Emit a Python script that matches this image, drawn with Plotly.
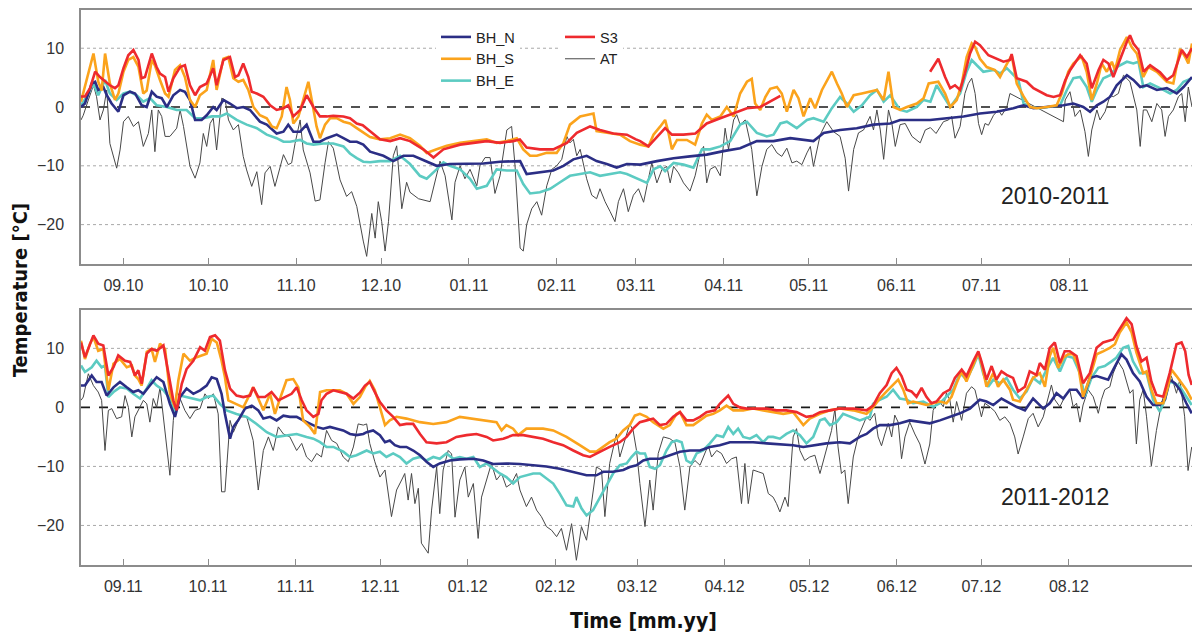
import pandas as pd
import plotly.graph_objects as go

# ---------------- DATA (day offsets from period start, temperature in deg C) ----------------
TOP_START = "2010-08-17"
BOT_START = "2011-08-17"

TOP_TICK_DATES = ["2010-09-01", "2010-10-01", "2010-11-01", "2010-12-01", "2011-01-01", "2011-02-01",
                  "2011-03-01", "2011-04-01", "2011-05-01", "2011-06-01", "2011-07-01", "2011-08-01"]
TOP_TICK_TEXT = ["09.10", "10.10", "11.10", "12.10", "01.11", "02.11", "03.11", "04.11", "05.11", "06.11", "07.11", "08.11"]
BOT_TICK_DATES = ["2011-09-01", "2011-10-01", "2011-11-01", "2011-12-01", "2012-01-01", "2012-02-01",
                  "2012-03-01", "2012-04-01", "2012-05-01", "2012-06-01", "2012-07-01", "2012-08-01"]
BOT_TICK_TEXT = ["09.11", "10.11", "11.11", "12.11", "01.12", "02.12", "03.12", "04.12", "05.12", "06.12", "07.12", "08.12"]

Y_TICKS = [-20, -10, 0, 10]
GRID_VALUES = [-20, -10, 10]

# ---- 2010-2011 ----
top_S3_day = [
    0, 1.4, 3.2, 5, 6.7, 8.5, 10.2, 12, 13.2, 15,
    16.7, 18.5, 20.3, 21.4, 22.6, 25, 26.7, 27.9, 29.7, 30.9,
    32.6, 35, 36.7, 38.5, 40.3, 42, 44.4, 46.7, 47.9, 50.3,
    52.6, 54.4, 55.6, 57.3, 59.1, 60.3, 62.1, 64.4, 66.8, 69.1,
    71.5, 73.2, 75, 77.4, 79.7, 82.1, 84.4, 86.8, 89.1, 92.7,
    95, 97.4, 99.5, 102, 105.6, 109.2, 112.7, 116.2, 120.9, 124.5,
    128, 133.9, 138.6, 143.3, 148, 152.7, 155, 157.4, 162.1, 166.8,
    171.6, 175.1, 179.8, 183.3, 188, 192.8, 196, 197.5, 200.4, 206.3,
    208.7, 212.8, 217, 221, 225.8, 230.5, 235.2, 239.9, 243.4, 247,
    270,
    299.9, 302.8, 305.2, 307, 308.7, 310.5, 312.2, 314, 315.8, 317.5,
    320.5, 323.4, 325.8, 328.1, 328.7, 330.5, 334, 336.4, 338.7, 341.1,
    343.5, 345.8, 347.6, 349.4, 352.9, 355.2, 357, 359.4, 361.1, 362.9,
    364.6, 367, 369.4, 370.5, 371.7, 373.5, 375.3, 377.6, 381.1, 383.5,
    385.8, 388.8, 390.6, 392.4]
top_S3_val = [
    1.8, 1.8, 3.2, 6.0, 5.1, 4.3, 3.7, 3.2, 3.7, 6.6,
    8.8, 9.7, 8.0, 4.9, 5.1, 9.1, 6.8, 5.7, 5.1, 2.6,
    4.9, 6.8, 7.1, 3.7, 2.0, 3.4, 4.0, 6.6, 3.7, 8.0,
    8.5, 5.1, 5.4, 7.4, 5.1, 2.6, 2.3, 1.75, 0.3, -0.5,
    -0.2, 0.3, -1.6, -0.5, 2.0, 0.0, -1.6, -1.6, -1.5, -1.6,
    -1.9, -2.8, -3.1, -4.1, -5.5, -5.8, -5.3, -5.8, -7.2, -8.6,
    -7.2, -6.4, -6.1, -5.8, -6.1, -5.8, -5.5, -6.9, -7.2, -7.2,
    -6.1, -4.4, -3.3, -3.9, -4.5, -4.7, -5.5, -5.8, -6.7, -3.6,
    -4.7, -4.7, -4.5, -2.8, -1.9, -1.0, -0.2, 0.0, 0.9, 1.9,
    None,
    6.0, 8.2, 5.1, 3.2, 3.7, 2.9, 5.7, 9.1, 11.1, 10.5,
    8.8, 8.2, 7.7, 8.0, 9.0, 4.9, 4.3, 3.2, 2.6, 2.0,
    1.7, 2.0, 4.5, 6.3, 8.8, 7.4, 3.2, 6.3, 8.0, 7.4,
    5.1, 8.2, 11.1, 12.2, 10.8, 9.7, 6.0, 7.1, 5.9, 4.6,
    5.4, 9.7, 8.5, 10.0]

top_BHS_day = [
    0, 2, 4.4, 6.1, 7.3, 8.5, 10.2, 12, 13.2, 15,
    16.7, 18.5, 20.3, 22, 23.2, 25, 26.1, 27.9, 29.7, 30.9,
    33.2, 35, 36.7, 38.5, 40.3, 42, 44.4, 46.7, 47.9, 50.3,
    52, 53.8, 55.6, 57.3, 59.1, 60.9, 63.2, 65.6, 67.4, 69.1,
    70.9, 72.6, 73.8, 75, 76.8, 78.5, 80.3, 81.5, 83.2, 84.4,
    86.2, 88, 90.3, 92.7, 95, 97.4, 99.7, 102.1, 105.6, 109.2,
    112.7, 116.2, 119.7, 122.1, 125.6, 129.2, 133.9, 138.6, 143.3, 146.8,
    150.4, 153.9, 156.2, 158.6, 161, 164.5, 168, 170.4, 172.7, 176.3,
    179.8, 181, 182.1, 185.7, 190.4, 193.9, 197.5, 200.4, 202.2, 204.6,
    206.3, 207.5, 208.7, 210.5, 214, 216.9, 219.3, 221, 222.8, 225.8,
    228.1, 230.5, 232.8, 235.2, 236.9, 238.1, 239.9, 241.7, 243.4, 245.8,
    247.5, 249.3, 251.7, 253.4, 255.2, 257.6, 259.3, 261.7, 265.2, 267,
    268.7, 270.5, 272.9, 275.8, 278.7, 281.1, 283.5, 285.2, 287, 289.3,
    291.7, 295.2, 297.6, 299.4, 302.8, 305.2, 307, 309.3, 311.1, 312.8,
    314.6, 315.8, 317.5, 319.9, 322.8, 324.6, 326.4, 328.7, 330.5, 332.9,
    335.2, 337.6, 341.1, 344.6, 346.4, 348.7, 350.5, 352.3, 353.5, 355.2,
    357, 358.8, 360.5, 362.3, 364.1, 365.2, 367, 369.4, 371.1, 372.9,
    375.2, 377, 380, 383.5, 385.8, 388.2, 390, 391.1, 392.4]
top_BHS_val = [
    0.9, 4.6, 9.1, 4.3, 2.8, 9.1, 4.0, 1.2, 2.3, 6.0,
    8.0, 8.5, 6.8, 2.3, 2.8, 8.0, 7.1, 4.6, 2.3, 1.75,
    6.3, 7.1, 5.1, 1.2, 0.0, 2.0, 2.9, 8.0, 2.9, 8.2,
    8.5, 4.9, 4.3, 4.6, 2.9, 0.0, -1.4, -1.9, -3.3, -3.6,
    -1.6, 3.4, 1.2, -2.8, -1.6, 1.2, 4.3, 1.2, -3.3, -5.3,
    -3.0, -1.9, -1.9, -2.5, -2.8, -3.6, -4.3, -5.1, -5.5, -5.3,
    -4.7, -5.3, -6.6, -7.8, -7.2, -6.6, -6.1, -5.8, -5.5, -6.1,
    -5.8, -5.3, -7.2, -8.3, -8.3, -7.8, -7.8, -6.1, -3.0, -1.6,
    -1.3, -1.1, -4.1, -4.4, -4.7, -5.8, -6.4, -6.7, -4.7, -3.3,
    -2.2, -4.4, -7.2, -5.6, -5.6, -6.4, -2.8, -1.3, -2.2, -1.6,
    0.0, -1.6, 2.3, 4.3, 4.8, 0.6, -0.5, 1.7, 3.1, 3.4,
    2.3, -0.8, 2.9, 1.5, -1.6, 1.5, -0.2, 2.9, 6.0, 4.0,
    2.3, 0.0, 2.0, 2.3, 2.6, 2.9, 1.2, 6.0, 0.0, -0.5,
    0.0, 0.6, 1.5, 4.0, 4.3, 2.3, 0.0, 1.2, 4.0, 8.5,
    10.8, 10.2, 8.2, 6.8, 6.3, 5.1, 6.8, 8.8, 4.0, 1.8,
    0.0, -0.2, 0.0, 0.3, 2.3, 6.0, 7.4, 8.2, 8.5, 6.0,
    1.2, 4.0, 7.4, 6.0, 7.7, 6.3, 9.7, 11.9, 10.2, 9.1,
    5.1, 6.8, 6.0, 4.3, 4.0, 9.9, 8.5, 7.4, 10.8]

top_BHN_day = [
    0, 1.4, 3.8, 5, 6.1, 7.9, 9.1, 10.8, 13.2, 15,
    17.3, 19.1, 21.4, 23.2, 25, 26.7, 28.5, 30.3, 32.6, 35,
    36.7, 38.5, 40.3, 42.6, 44.4, 46.7, 47.9, 50.3, 52.6, 55,
    57.3, 59.7, 63.2, 65.6, 69.1, 71.5, 73.2, 75, 77.4, 79.7,
    82.1, 84.4, 86.8, 90.3, 92.7, 95, 97.4, 99.7, 102.1, 106.8,
    110.3, 113.9, 117.4, 122.1, 125.6, 130.3, 136.2, 142.1, 148, 155.1,
    157.4, 162.1, 166.8, 170.4, 173.9, 178.6, 182.1, 185.7, 189.2, 192.8,
    197.5, 203.4, 209.3, 215.1, 221, 226.9, 232.8, 238.7, 244.6, 250.5,
    256.4, 258.7, 262.3, 268.1, 274, 279.9, 285.8, 289.3, 295.2, 299.9,
    305.8, 311.7, 317.5, 323.4, 329.3, 332.9, 336.4, 341.1, 347, 350.5,
    354, 356.4, 358.8, 361.1, 363.5, 365.8, 369.4, 371.7, 374.1, 376.4,
    380, 383.5, 387, 389.4, 392.4]
top_BHN_val = [
    0.0, 0.6, 4.0, 4.3, 2.9, 3.4, 2.0, 0.6, -0.8, 2.0,
    2.6, 2.3, 0.3, 0.0, 2.6, 1.75, 1.5, 0.0, 2.0, 2.9,
    2.6, 1.2, -2.2, -2.2, -1.4, 0.0, -0.5, 1.2, 0.6, -0.2,
    0.0, -0.5, -2.5, -3.0, -4.5, -4.2, -3.0, -4.2, -4.2, -3.0,
    -5.9, -5.9, -5.3, -4.7, -5.3, -5.9, -5.9, -6.4, -7.6, -8.3,
    -9.2, -8.3, -8.3, -9.2, -10.0, -9.7, -9.7, -9.6, -9.3, -9.2,
    -11.4, -11.1, -10.8, -10.0, -8.9, -8.3, -9.2, -9.7, -10.3, -9.7,
    -9.8, -9.2, -8.7, -8.4, -8.1, -7.5, -7.0, -5.8, -5.8, -5.3,
    -5.6, -5.8, -4.4, -3.9, -3.6, -3.0, -2.8, -2.2, -2.2, -2.2,
    -1.9, -1.6, -1.1, -0.8, -0.2, 0.3, -0.2, 0.0, 0.3, 0.6,
    0.0, -0.8, 0.3, 0.9, 1.75, 3.7, 5.4, 4.6, 3.4, 3.7,
    2.9, 3.2, 2.3, 3.4, 5.1]

top_BHE_day = [
    0, 2, 4.4, 6.1, 8.5, 10.2, 12.6, 15, 17.3, 19.7,
    22, 24.4, 26.7, 30.3, 33.8, 37.3, 40.3, 43.2, 46.2, 49.1,
    51.5, 55, 58.5, 62.1, 65.6, 69.1, 71.5, 73.8, 77.4, 79.7,
    82.1, 85.6, 89.1, 92.7, 95, 97.4, 99.7, 102.1, 105.6, 109.2,
    112.7, 116.2, 119.7, 122.1, 125.6, 128, 130.3, 133.9, 137.4, 139.8,
    143.3, 146.8, 150.4, 153.9, 156.2, 158.6, 162.1, 165.7, 169.2, 172.7,
    176.3, 179.8, 183.3, 186.9, 190.4, 192.8, 196.3, 199.9, 202.2, 204.6,
    206.3, 209.3, 212.8, 216.3, 219.3, 222.2, 225.8, 229.3, 232.8, 235.2,
    238.7, 242.2, 244.6, 247, 249.3, 252.8, 256.4, 258.7, 262.3, 265.2,
    268.1, 270.5, 272.9, 275.8, 278.7, 281.1, 283.5, 285.8, 289.3, 291.7,
    295.2, 297.6, 300, 302.2, 307, 310.5, 312.8, 314.6, 316.4, 318.7,
    322.3, 324.6, 327, 329.3, 331.1, 332.9, 335.2, 338.7, 342.3, 345.8,
    348.2, 350.5, 352.9, 355.2, 357, 358.8, 361.1, 363.5, 365.8, 369.4,
    371.7, 373.5, 375.2, 377.6, 381.1, 384.7, 387, 389.4, 392.4]
top_BHE_val = [
    0.3, 1.75, 4.0, 2.0, 4.6, 2.3, 1.2, 2.3, 2.6, 2.0,
    0.9, 1.5, 0.3, 0.0, -0.5, -0.5, -1.9, -1.9, -1.6, -1.6,
    -1.1, -2.2, -3.0, -3.6, -4.7, -5.3, -5.9, -5.9, -5.6, -6.2,
    -6.4, -6.2, -6.2, -6.7, -7.9, -8.7, -9.3, -9.4, -9.2, -9.2,
    -8.3, -9.7, -11.7, -12.2, -10.6, -9.4, -10.0, -10.6, -12.2, -13.9,
    -13.4, -10.6, -10.8, -10.8, -13.1, -14.7, -14.5, -13.9, -12.8, -11.7,
    -11.4, -11.1, -11.7, -11.4, -11.1, -11.4, -12.2, -12.9, -10.6, -10.1,
    -10.9, -9.5, -9.8, -10.3, -7.2, -7.2, -6.7, -5.8, -3.0, -2.5,
    -4.4, -5.0, -4.7, -2.8, -2.5, -3.6, -2.2, -1.9, -2.5, -0.2,
    1.7, 0.6, -0.8, 0.3, 2.0, 2.9, 0.9, 2.0, -0.5, -0.8,
    0.0, 1.2, 0.9, 3.7, 0.0, 2.3, 6.0, 8.0, 7.1, 6.0,
    6.3, 5.7, 6.6, 5.4, 4.6, 0.6, 0.0, -0.2, 0.0, 0.3,
    2.9, 4.9, 5.1, 3.4, 0.9, 2.9, 4.9, 5.4, 6.8, 7.7,
    7.4, 7.7, 3.4, 4.0, 3.2, 2.3, 2.9, 4.3, 4.9]

top_AT_day = [
    0, 0.8, 2.6, 4.4, 5.5, 6.7, 7.9, 9.1, 10.2, 12.6,
    13.8, 15, 16.7, 18.5, 20.3, 22, 23.8, 25, 26.1, 27.3,
    28.5, 29.7, 31.4, 33.8, 35, 36.2, 38.5, 40.3, 42, 43.2,
    44.4, 45.6, 46.7, 47.9, 49.7, 50.9, 52.1, 53.8, 55.6, 57.3,
    58.5, 60.3, 62.1, 63.8, 65, 66.8, 68.5, 70.3, 71.5, 73.2,
    74.4, 75.6, 77.4, 78.5, 80.9, 82.7, 84.4, 86.2, 87.4, 89.1,
    91.5, 93.8, 95.6, 97.4, 98.6, 99.7, 100.9, 102.7, 103.9, 105,
    106.2, 107.4, 108.6, 110.3, 111.5, 113.3, 115, 116.2, 119.2, 123.3,
    126.8, 128.6, 131, 132.1, 133.9, 135.6, 137.4, 139.8, 140.9, 142.7,
    144.5, 146.2, 148, 150.4, 152.1, 153.3, 155.1, 156.2, 157.4, 159.2,
    161, 162.7, 164.5, 166.3, 168, 169.8, 171.6, 172.7, 173.9, 175.1,
    176.3, 178.6, 180.4, 182.1, 183.3, 185.1, 186.9, 188.6, 189.8, 191.6,
    193.3, 195.1, 196.9, 198.7, 199.9, 201.6, 203.4, 205.2, 206.9, 208.1,
    209.3, 211, 212.8, 215.1, 216.9, 218.7, 219.9, 221, 222.2, 224,
    225.8, 227.5, 228.7, 230.5, 231.6, 232.8, 234.6, 236.9, 238.7, 240.5,
    242.2, 244, 245.8, 247.5, 249.3, 251.1, 252.8, 254.6, 256.4, 257.6,
    258.7, 261.1, 263.4, 265.8, 268.1, 269.9, 271.1, 272.9, 274.6, 276.4,
    278.7, 279.9, 281.1, 282.3, 283.5, 285.2, 286.4, 287.6, 289.3, 291.1,
    293.5, 296.4, 298.2, 300, 302, 304.6, 306.4, 307.5, 308.7, 310.5,
    312.2, 313.4, 314.6, 315.8, 317, 318.1, 319.3, 320.5, 322.3, 324,
    325.2, 327, 328.1, 347, 347.6, 349.3, 351.1, 352.9, 354.6, 355.8,
    357, 358.8, 359.9, 361.7, 363.5, 364.6, 366.4, 368.2, 370.5, 371.7,
    372.9, 374.1, 375.2, 376.4, 378.2, 380, 381.7, 382.9, 384.1, 385.8,
    387.6, 388.8, 390, 391.1, 392.4]
top_AT_val = [
    -2.2, -1.4, 1.2, 3.7, 1.75, -2.2, -0.5, 2.9, -6.2, -10.4,
    -7.3, -2.5, -1.6, -3.3, -2.5, -6.7, -4.5, -0.5, -7.6, -0.5,
    -1.6, -5.0, -5.0, -3.6, -0.5, -3.3, -10.1, -12.1, -9.5, -4.5,
    -6.7, -2.8, -1.9, -7.3, 1.5, 1.2, -2.2, -3.9, -3.0, -8.4,
    -10.7, -13.5, -11.0, -16.6, -11.2, -10.1, -13.5, -10.1, -8.1, -9.8,
    -9.5, -6.2, -2.2, -7.3, -11.2, -16.0, -15.8, -9.5, -5.9, -7.0,
    -12.4, -15.2, -14.4, -16.9, -20.3, -22.8, -25.4, -18.1, -22.3, -16.1,
    -19.5, -24.5, -19.5, -8.3, -6.6, -17.3, -12.8, -14.5, -15.6, -16.1,
    -9.2, -11.7, -19.2, -12.8, -10.0, -12.2, -10.6, -13.4, -10.0, -8.6,
    -8.6, -14.7, -11.7, -3.9, -3.3, -10.0, -24.0, -24.5, -20.0, -17.3,
    -16.1, -18.4, -13.4, -10.6, -10.0, -8.9, -5.0, -6.1, -5.5, -8.3,
    -7.2, -12.2, -15.0, -15.6, -13.9, -16.1, -17.8, -19.5, -16.1, -13.9,
    -17.8, -15.0, -13.9, -16.2, -13.4, -9.5, -12.9, -10.6, -10.1, -12.9,
    -10.1, -11.2, -12.9, -14.3, -11.7, -7.8, -6.7, -12.9, -10.6, -10.1,
    -11.7, -3.6, -7.2, -2.2, -1.3, -3.0, -2.2, -7.2, -15.1, -10.1,
    -7.2, -6.4, -7.8, -8.4, -7.0, -9.5, -9.2, -9.8, -7.8, -6.7,
    -10.1, -4.7, -2.5, -4.2, -5.0, -8.7, -14.3, -7.2, -4.4, -3.9,
    -1.6, -3.9, -0.5, -3.9, -8.9, -0.5, -2.8, -6.7, -3.0, -2.8,
    -5.0, -6.1, -3.9, -3.5, -4.5, -2.5, -2.2, -1.6, -5.3, -3.3,
    2.3, 4.0, 4.9, 2.3, -2.8, -4.7, -2.8, -3.1, -1.4, -0.5,
    -1.4, 0.0, 2.3, -2.5, 1.2, 2.6, -1.6, -0.5, -4.2, -8.4,
    -3.9, -0.5, -2.2, -0.8, 2.0, 1.75, 2.3, 5.4, 4.3, 1.75,
    -0.5, -6.7, -0.5, -0.5, -2.5, 0.6, -0.5, -5.0, -1.6, -0.5,
    1.75, 2.3, -2.5, 3.4, 0.0]

# ---- 2011-2012 ----
bot_S3_day = [
    0, 1.4, 4.4, 6.1, 7.9, 9.7, 11.5, 13.2, 15.6, 17.4,
    19.1, 20.3, 21.5, 23.3, 25, 26.8, 29.2, 30.9, 32.7, 33.9,
    35.7, 37.4, 39.8, 42.2, 43.9, 45.7, 47.5, 49.2, 51, 52.8,
    55.1, 57.5, 59.9, 61, 62.8, 65.2, 67.5, 69.9, 72.3, 74.6,
    76.4, 78.2, 79.9, 82.3, 84.1, 85.2, 87, 89.4, 91.7, 94.1,
    96.5, 98.8, 100.6, 102.3, 104.1, 105.9, 108.2, 110.6, 113, 115.3,
    117.7, 120.1, 122.4, 126, 129.5, 133, 136.6, 140.1, 143.7, 146,
    149.6, 153.1, 156.7, 160.2, 163.7, 167.3, 170.8, 174.4, 177.9, 180.3,
    182.6, 185, 187.3, 190.9, 193.3, 195.6, 198, 200.4, 202.7, 205.1,
    207.4, 209.8, 212.2, 214.5, 216.9, 219.3, 221.6, 224.6, 226.3, 229.3,
    231.1, 233.4, 235.8, 239.3, 242.9, 246.4, 249.9, 253.5, 257, 259.4,
    261.8, 265.3, 268.8, 273.6, 278.3, 280.6, 283, 285.4, 287.2, 288.9,
    290.7, 292.5, 294.2, 296, 297.8, 299.5, 301.3, 303.1, 305.5, 307.8,
    309.6, 312, 313.7, 316.1, 317.9, 319, 320.8, 322.6, 324.3, 326.1,
    327.9, 330.2, 332, 334.4, 336.1, 338.5, 339.7, 341.5, 343.2, 345,
    346.8, 348.5, 350.3, 352.7, 355, 357.4, 359.8, 362.1, 363.9, 365.7,
    368, 370.4, 372.2, 373.9, 375.7, 377.5, 379.2, 381, 383.4, 385.7,
    388.1, 389.9, 391.2, 392.4, 393.5]
bot_S3_val = [
    11.0, 8.5, 12.2, 10.8, 10.5, 5.4, 6.8, 8.8, 7.9, 7.7,
    5.4, 6.3, 4.0, 9.1, 9.9, 9.6, 10.5, 6.3, 1.2, -0.5,
    4.0, 6.5, 7.9, 10.2, 9.6, 11.9, 12.2, 11.3, 6.3, 3.2,
    2.0, 1.75, 2.0, 3.4, 1.75, 1.75, 2.6, 1.2, 1.75, 2.3,
    3.4, 1.2, -0.5, -1.6, -1.1, 1.2, 2.3, 2.9, 2.6, 2.3,
    1.5, 2.5, 3.7, 4.3, 2.6, 0.9, -0.5, -1.6, -3.0, -2.8,
    -2.8, -4.5, -5.9, -6.1, -5.9, -5.0, -4.7, -4.5, -5.0, -5.6,
    -5.3, -4.7, -4.7, -5.0, -5.3, -5.9, -6.4, -7.3, -8.1, -8.4,
    -7.8, -7.3, -6.7, -5.9, -5.0, -3.6, -2.5, -2.2, -1.9, -3.0,
    -2.8, -1.6, -0.8, -2.2, -2.2, -1.6, -0.8, -0.5, 0.6, 2.0,
    0.6, 0.0, -0.2, -0.2, -0.2, -0.5, -0.5, -0.8, -1.6, -1.4,
    -0.8, -0.5, -0.2, -0.2, -0.5, 0.3, 2.4, 3.8, 5.8, 6.7,
    5.3, 3.0, 2.7, 1.8, 3.3, 1.8, 0.7, 1.0, 2.4, 3.0,
    5.0, 6.4, 5.3, 7.8, 9.5, 7.8, 4.7, 7.0, 4.7, 6.1,
    5.5, 5.0, 2.7, 3.5, 6.1, 5.5, 7.5, 6.4, 10.1, 11.0,
    7.5, 9.5, 9.5, 8.7, 4.1, 5.8, 10.1, 11.0, 11.3, 11.5,
    13.3, 15.1, 14.1, 10.4, 7.8, 8.4, 4.4, 2.1, 1.8, 5.8,
    10.7, 11.0, 9.5, 5.5, 3.8]

bot_BHS_day = [
    0, 1.4, 3.2, 4.4, 6.1, 7.9, 9.7, 11.5, 13.8, 16.2,
    18, 19.1, 20.3, 21.5, 23.3, 25, 26.2, 28, 29.8, 31.5,
    33.3, 34.5, 36.3, 38.6, 41, 42.7, 44.5, 46.3, 48.1, 49.8,
    51, 52.2, 55.1, 57.5, 59.9, 61, 62.8, 64.6, 67, 68.7,
    70.5, 72.8, 75.2, 77, 78.7, 81.1, 82.9, 84.7, 87, 89.4,
    91.7, 94.1, 96.5, 98.8, 100.6, 102.3, 104.1, 105.9, 107.7, 109.4,
    111.8, 115.3, 120.1, 124.8, 129.5, 134.2, 139, 143.7, 147.2, 149,
    150.7, 153.1, 154.9, 157.8, 163.7, 167.3, 172, 176.7, 180.3, 182.6,
    185, 187.3, 189.7, 192.1, 194.4, 196.2, 198, 200.4, 202.7, 206.3,
    208.6, 211, 212.2, 214.5, 216.9, 219.3, 221.6, 224, 226.3, 228.7,
    231.1, 234.6, 238.1, 241.7, 245.2, 248.8, 252.3, 255.9, 258.2, 261.8,
    265.3, 268.8, 273.6, 278.3, 280.6, 283, 285.4, 287.7, 289.5, 291.3,
    293, 294.8, 297.2, 299.5, 301.9, 304.3, 306.6, 308.4, 310.2, 312,
    313.7, 316.1, 317.9, 319, 320.8, 323.2, 324.9, 326.7, 329.1, 330.2,
    332.6, 335, 337.3, 339.7, 341.5, 343.2, 344.4, 346.2, 348, 349.7,
    351.5, 353.3, 355, 357.4, 359.8, 362.1, 364.5, 366.3, 368, 370.4,
    372.2, 373.9, 376.3, 377.5, 379.2, 381, 383.4, 385.1, 386.3, 388.1,
    389.9, 391.6, 393.5]
bot_BHS_val = [
    11.3, 8.2, 10.8, 11.9, 9.6, 9.9, 2.9, 7.4, 8.2, 6.8,
    7.1, 5.4, 4.8, 3.7, 9.4, 9.9, 7.7, 10.8, 9.9, 2.3,
    0.0, 4.6, 9.1, 7.9, 8.5, 8.8, 9.1, 11.6, 11.0, 7.9,
    5.1, 1.2, 0.6, 0.0, 2.3, 3.4, 1.5, -0.5, 2.3, -1.1,
    1.5, 4.6, 4.8, 3.4, -2.2, -3.3, -4.5, 2.6, 2.9, 2.9,
    2.9, 2.3, 0.6, 1.75, 3.4, 4.5, 2.9, 0.0, -3.0, -2.2,
    -1.6, -1.9, -2.5, -2.8, -2.5, -1.6, -1.9, -2.2, -2.5, -3.9,
    -3.0, -3.6, -4.7, -3.6, -3.6, -3.9, -5.0, -6.4, -7.5, -7.5,
    -6.7, -5.9, -5.3, -3.9, -3.0, -1.4, -1.1, -1.6, -2.5, -3.6,
    -3.0, -1.1, -0.8, -3.0, -3.0, -2.2, -1.4, -1.1, -0.5, 0.3,
    -0.5, -0.5, -0.2, -0.5, -0.8, -1.1, -0.8, -3.0, -1.9, -1.1,
    -0.5, -0.2, -0.5, -1.1, 0.0, 1.5, 2.7, 3.8, 4.7, 3.0,
    0.7, 1.0, 0.7, 0.4, 0.7, 1.0, 0.7, 1.8, 4.1, 6.1,
    4.4, 7.3, 9.3, 7.5, 3.5, 5.8, 3.5, 4.7, 3.0, 1.3,
    1.0, 3.0, 5.0, 5.8, 3.5, 8.7, 10.1, 6.7, 8.4, 9.0,
    9.0, 7.0, 1.8, 5.0, 9.0, 9.5, 10.1, 10.7, 12.7, 14.4,
    12.7, 9.3, 5.8, 6.1, 3.0, 0.7, 0.7, 3.5, 6.4, 5.3,
    4.1, 3.0, 1.3]

bot_BHN_day = [
    0, 1.4, 3.8, 5.5, 7.3, 9.1, 11.5, 13.8, 16.2, 18.5,
    20.3, 22.1, 24.4, 26.8, 29.2, 31.5, 33.3, 35.1, 37.4, 39.8,
    42.2, 44.5, 46.3, 48.1, 49.8, 51, 52.8, 54, 55.7, 58.1,
    60.5, 62.8, 64.6, 67, 69.3, 71.7, 74, 76.4, 78.7, 81.1,
    83.5, 85.8, 88.2, 90.6, 92.9, 95.3, 97.6, 100, 101.2, 103.5,
    105.9, 107.7, 109.4, 111.2, 113, 115.3, 117.7, 120.1, 122.4, 124.8,
    127.1, 130.7, 134.2, 139, 142.5, 146, 150.7, 155.5, 160.2, 164.9,
    169.6, 174.4, 179.1, 182.6, 185, 188.5, 192.1, 194.4, 196.8, 199.2,
    201.5, 205.1, 208.6, 212.2, 215.7, 219.3, 222.8, 226.3, 229.9, 233.4,
    238.1, 242.9, 247.6, 252.3, 255.9, 259.4, 264.1, 268.8, 272.4, 275.9,
    278.3, 280.6, 283, 286.6, 290.1, 293.6, 297.2, 300.7, 304.3, 307.8,
    311.4, 314.9, 318.4, 320.8, 323.2, 326.1, 329.1, 331.4, 334.4, 337.3,
    340.9, 343.2, 345.6, 348, 350.3, 352.7, 355, 357.4, 359.8, 362.1,
    363.9, 365.7, 368.6, 370.4, 372.7, 375.1, 377.5, 379.8, 382.2, 384,
    385.7, 387.5, 389.3, 391.6, 393.5]
bot_BHN_val = [
    3.7, 3.7, 5.4, 4.3, 4.3, 2.0, 3.4, 4.3, 3.4, 2.6,
    2.9, 2.3, 3.7, 5.1, 4.3, 0.6, -1.6, 1.75, 3.2, 2.3,
    2.9, 3.7, 5.1, 4.8, 2.3, -1.1, -5.3, -3.3, -2.2, -0.2,
    0.3, -0.5, -1.9, -1.6, -2.2, -1.4, -1.6, -1.6, -2.2, -2.8,
    -3.3, -3.6, -3.3, -3.6, -3.9, -4.5, -4.7, -4.5, -4.2, -3.9,
    -4.7, -5.9, -5.6, -6.4, -6.7, -6.7, -7.3, -8.1, -9.2, -10.1,
    -9.5, -9.0, -8.8, -8.7, -9.0, -9.6, -9.5, -9.6, -9.8, -10.0,
    -10.4, -10.9, -11.5, -11.5, -10.9, -10.9, -10.6, -10.1, -9.8, -9.0,
    -8.7, -8.7, -8.1, -7.5, -7.3, -7.3, -6.7, -6.4, -5.9, -5.9,
    -5.9, -6.1, -6.2, -6.4, -6.7, -6.4, -6.1, -5.9, -6.1, -5.0,
    -4.5, -3.6, -3.0, -3.0, -2.7, -2.2, -2.5, -2.7, -2.2, -1.6,
    -1.0, -0.2, 1.3, 1.0, 0.4, 1.5, 0.7, 0.1, -0.5, 1.5,
    -0.2, 0.7, 2.4, 1.5, 3.0, 3.0, 1.5, 5.0, 5.3, 5.0,
    4.7, 6.4, 9.0, 8.1, 5.8, 4.4, 1.8, 0.4, 0.4, 1.3,
    4.7, 4.1, 3.0, 0.7, -1.0]

bot_BHE_day = [
    0, 1.4, 3.8, 5.5, 7.3, 8.5, 9.7, 11.5, 13.8, 16.2,
    18.5, 20.9, 23.3, 25, 26.8, 29.2, 31.5, 33.3, 35.1, 37.4,
    39.8, 42.2, 44.5, 46.9, 49.2, 51.6, 55.1, 58.7, 62.2, 65.8,
    69.3, 72.8, 76.4, 79.9, 82.3, 84.7, 87, 89.4, 92.9, 95.3,
    97.6, 101.2, 103.5, 105.9, 108.2, 110.6, 113, 115.3, 117.7, 120.1,
    122.4, 124.8, 127.1, 129.5, 131.9, 134.2, 136.6, 139, 141.3, 143.7,
    146, 148.4, 150.7, 153.1, 155.5, 157.8, 160.2, 162.6, 164.9, 167.3,
    169.6, 172, 174.4, 175.5, 177.3, 179.1, 181.4, 183.8, 186.2, 188.5,
    190.9, 193.3, 195, 196.8, 198, 199.8, 201.5, 203.3, 205.1, 207.4,
    209.2, 211, 212.8, 214.5, 216.3, 218.1, 220.4, 222.8, 225.2, 227.5,
    229.3, 231.1, 232.8, 234.6, 237, 239.3, 241.7, 243.5, 245.2, 247.6,
    249.9, 252.3, 254.7, 257, 259.4, 261.8, 263.5, 265.3, 267.7, 270,
    272.4, 275.9, 279.5, 280.6, 283, 285.4, 287.7, 290.1, 292.5, 294.8,
    298.4, 301.9, 304.3, 306.6, 309, 311.4, 313.7, 316.1, 317.9, 319.6,
    321.4, 323.2, 325.5, 327.9, 330.2, 332.6, 335, 337.3, 339.7, 342.1,
    344.4, 346.8, 349.1, 351.5, 353.9, 355.6, 358, 360.4, 362.7, 365.1,
    366.8, 369.2, 371, 372.7, 375.1, 377.5, 379.8, 382.2, 384, 385.7,
    387.5, 389.3, 391.6, 393.5]
bot_BHE_val = [
    7.1, 6.0, 6.8, 7.9, 6.8, 7.1, 1.75, 2.6, 3.4, 3.2,
    2.3, 1.5, 3.2, 4.6, 3.7, 2.9, 1.5, -1.1, 2.0, 1.75,
    1.5, 1.2, 1.75, 2.0, 0.6, -0.5, -1.1, -1.6, -2.8, -4.2,
    -5.0, -4.7, -4.5, -5.0, -5.3, -5.9, -6.7, -6.7, -7.5, -8.4,
    -8.1, -7.3, -7.8, -7.5, -8.4, -7.8, -8.4, -9.5, -8.7, -8.4,
    -9.0, -8.4, -8.7, -7.8, -8.7, -8.4, -8.7, -8.4, -10.1, -9.5,
    -10.4, -11.2, -11.8, -12.9, -11.8, -11.5, -11.2, -11.2, -12.1, -12.9,
    -14.6, -16.6, -16.8, -15.2, -17.1, -18.3, -17.4, -15.4, -13.2, -11.2,
    -9.8, -9.5, -8.4, -7.5, -7.8, -7.8, -10.1, -10.4, -9.8, -7.3,
    -5.9, -5.6, -5.9, -9.0, -9.5, -7.8, -7.3, -6.1, -4.7, -5.0,
    -3.3, -4.5, -3.6, -5.0, -5.3, -4.7, -5.9, -5.0, -5.0, -5.3,
    -4.5, -3.9, -4.7, -6.1, -5.0, -2.2, -1.9, -3.0, -2.5, -1.1,
    -1.6, -2.2, -1.6, 0.6, 1.3, 1.8, 3.0, 1.5, 1.3, 0.7,
    1.0, 0.1, 0.7, 1.8, 3.0, 5.8, 4.7, 7.0, 9.0, 5.8,
    3.5, 4.7, 4.1, 5.0, 3.0, 1.5, 2.7, 5.0, 4.1, 6.4,
    8.4, 6.1, 8.7, 8.4, 5.8, 1.8, 5.0, 6.7, 7.0, 7.8,
    8.4, 10.1, 10.4, 7.8, 5.8, 5.8, 1.3, -0.7, 1.3, 4.4,
    4.1, 3.5, 1.8, 0.4]

bot_AT_day = [
    0, 0.8, 2.6, 4.4, 6.1, 7.3, 8.5, 9.7, 10.9, 12.6,
    14.4, 15.6, 16.8, 18, 19.1, 20.3, 22.1, 23.3, 24.4, 25.6,
    26.8, 28, 29.2, 30.3, 31.5, 32.7, 33.9, 35.1, 36.8, 38.6,
    40.4, 42.2, 43.9, 45.1, 46.9, 48.6, 49.8, 51, 52.8, 54,
    56.3, 58.7, 61, 62.8, 64.6, 66.4, 68.1, 69.9, 71.7, 74,
    76.4, 78.2, 79.9, 81.7, 83.5, 85.2, 87, 88.8, 90.6, 92.9,
    94.7, 96.5, 98.2, 100, 101.2, 102.3, 104.1, 105.9, 107.7, 110,
    111.8, 113.6, 114.7, 115.9, 117.1, 118.3, 119.5, 120.6, 123, 124.2,
    126, 127.1, 128.3, 130.1, 131.3, 132.5, 134.2, 136, 137.2, 139,
    140.7, 141.9, 143.7, 145.4, 147.2, 149, 150.7, 152.5, 154.3, 155.5,
    157.8, 159.6, 161.4, 163.1, 164.9, 166.7, 168.5, 170.2, 172, 173.8,
    175.5, 177.3, 179.1, 180.9, 182.6, 184.4, 185.6, 187.3, 189.7, 190.9,
    192.7, 194.4, 195.6, 196.8, 198, 199.8, 201.5, 202.7, 204.5, 206.3,
    208.6, 210.4, 212.2, 213.9, 215.7, 217.5, 219.3, 221, 222.2, 223.4,
    225.2, 226.9, 228.7, 230.5, 232.2, 234, 235.2, 236.4, 238.1, 239.9,
    241.7, 243.5, 245.2, 246.4, 247.6, 249.4, 250.5, 252.3, 253.5, 254.7,
    256.4, 258.2, 260, 261.8, 264.1, 265.9, 267.1, 268.2, 269.4, 270.6,
    271.8, 273.6, 275.3, 276.5, 278.3, 279.5, 281.2, 282.4, 283.6, 284.8,
    286, 287.2, 288.3, 289.5, 290.7, 291.9, 293.6, 295.4, 297.2, 299,
    300.7, 301.9, 303.7, 305.5, 306.6, 307.8, 309, 310.2, 312, 313.7,
    315.5, 316.7, 317.9, 319, 320.2, 322, 323.8, 325.5, 327.3, 329.1,
    330.8, 332, 333.8, 335.6, 337.3, 339.1, 340.9, 342.6, 343.8, 345,
    346.8, 348.5, 350.3, 351.5, 352.7, 353.9, 355, 356.8, 358.6, 360.4,
    361.5, 362.7, 364.5, 365.7, 367.4, 369.2, 371.6, 372.7, 373.9, 375.1,
    376.3, 377.5, 379.2, 381, 382.8, 384.5, 386.3, 388.1, 389.3, 391,
    392.2, 393.5]
bot_AT_val = [
    1.2, 1.75, 5.7, 3.7, 2.6, 1.2, -7.3, -0.5, -0.2, -1.9,
    -1.6, 2.0, 0.0, -5.0, -1.6, -0.5, 1.2, 0.6, -2.5, 1.5,
    0.0, 3.4, -1.9, -7.3, -11.5, -2.2, 2.9, 1.5, -0.5, -1.9,
    -0.5, -0.2, 2.3, 1.5, 2.3, -1.1, -14.3, -14.3, -2.2, -4.2,
    -1.6, -1.6, -5.6, -14.0, -7.3, -5.0, -7.3, -3.3, -4.5, -5.0,
    -7.3, -6.1, -8.4, -9.2, -7.8, -8.4, -3.9, -5.6, -6.1, -8.4,
    -9.2, -6.7, -2.8, -3.0, -2.8, -6.1, -9.2, -11.8, -10.6, -18.5,
    -14.0, -12.3, -11.2, -15.7, -11.2, -16.3, -13.7, -23.0, -24.7, -17.4,
    -10.1, -18.0, -10.6, -7.3, -7.9, -18.6, -12.3, -10.1, -15.2, -12.9,
    -22.2, -15.2, -12.3, -9.5, -12.3, -11.2, -13.5, -12.9, -11.2, -14.0,
    -16.8, -15.2, -17.4, -18.5, -20.2, -20.8, -21.9, -20.5, -24.2, -19.7,
    -25.9, -20.2, -22.5, -16.3, -10.1, -10.6, -18.5, -9.5, -4.5, -8.4,
    -5.6, -2.8, -3.9, -7.3, -12.9, -20.2, -12.3, -17.4, -7.8, -5.0,
    -5.3, -5.9, -10.1, -17.4, -10.1, -9.0, -9.8, -7.8, -6.4, -8.4,
    -7.3, -7.8, -9.5, -8.7, -8.4, -16.3, -9.5, -16.3, -10.6, -10.9,
    -11.2, -14.6, -15.2, -16.3, -17.7, -15.2, -16.8, -5.0, -3.6, -7.3,
    -9.0, -8.4, -8.1, -11.2, -7.3, -3.9, -0.2, -6.7, -11.2, -10.6,
    -16.3, -8.4, -5.0, -3.6, -1.6, -2.2, -1.0, -5.0, -6.5, -4.5,
    -2.7, -5.0, -1.3, -2.5, -8.7, -5.0, -2.5, -4.5, -6.2, -9.6,
    -6.2, -0.5, 1.3, 0.1, 2.4, 1.3, -2.5, 1.0, -2.2, 2.4,
    3.5, 3.0, 0.7, -1.6, 0.7, 0.1, -0.7, -2.2, -1.6, -2.7,
    -5.0, -7.9, -5.0, -1.9, -1.0, -3.3, -1.6, 1.8, 3.8, 1.3,
    0.1, 1.8, 3.0, 0.1, 0.7, -2.5, 0.4, 3.0, 1.8, -1.0,
    1.3, 3.0, 3.5, 5.8, 7.8, 6.4, 2.4, 3.0, -6.2, 1.3,
    3.0, -1.6, -9.9, -3.9, 0.7, 3.5, 5.3, 2.4, 4.7, -1.6,
    -10.7, -6.7]

# ---------------- STYLE ----------------
COLORS = {"BH_N": "#2b2e85", "BH_S": "#fba31c", "BH_E": "#5ccbc2", "S3": "#ee2a2e", "AT": "#484848"}
WIDTHS = {"BH_N": 2.6, "BH_S": 2.6, "BH_E": 2.6, "S3": 2.6, "AT": 1.0}
SANS = "Liberation Sans, Arial, sans-serif"
NARROW = "Liberation Sans Narrow, DejaVu Sans Condensed, Arial Narrow, sans-serif"
TICK_FONT = dict(family=SANS, size=16, color="#333333")
FRAME = "#8c8c8c"

W, H = 1192, 636
ML, MR, MT, MB = 81, 0, 10, 71
PLOT_H = H - MT - MB
TOP_Y0, TOP_Y1 = 264, 10      # pixel rows of the upper panel
BOT_Y0, BOT_Y1 = 565, 310     # pixel rows of the lower panel
X_SPAN_DAYS_TOP = 392.4
X_SPAN_DAYS_BOT = 393.6
Y_RANGE = [-26.7, 16.5]


def py(p):
    return (H - MB - p) / PLOT_H


def px(p):
    return (p - ML) / (W - ML - MR)


def to_dates(start, days):
    s = pd.Timestamp(start)
    return [(s + pd.Timedelta(minutes=round(d * 1440))).strftime("%Y-%m-%d %H:%M") for d in days]


fig = go.Figure()

series = [
    ("top", "AT", top_AT_day, top_AT_val),
    ("top", "BH_E", top_BHE_day, top_BHE_val),
    ("top", "BH_N", top_BHN_day, top_BHN_val),
    ("top", "BH_S", top_BHS_day, top_BHS_val),
    ("top", "S3", top_S3_day, top_S3_val),
    ("bot", "AT", bot_AT_day, bot_AT_val),
    ("bot", "BH_E", bot_BHE_day, bot_BHE_val),
    ("bot", "BH_N", bot_BHN_day, bot_BHN_val),
    ("bot", "BH_S", bot_BHS_day, bot_BHS_val),
    ("bot", "S3", bot_S3_day, bot_S3_val),
]
legend_of = {"BH_N": ("legend", 1), "BH_S": ("legend", 2), "BH_E": ("legend", 3),
             "S3": ("legend2", 1), "AT": ("legend2", 2)}

for panel, name, days, vals in series:
    pairs = list(zip(days, vals))
    d = [p[0] for p in pairs]
    v = [p[1] for p in pairs]
    start = TOP_START if panel == "top" else BOT_START
    lg, rank = legend_of[name]
    fig.add_trace(go.Scatter(
        x=to_dates(start, d), y=v, mode="lines", name=name,
        line=dict(color=COLORS[name], width=WIDTHS[name]),
        xaxis="x" if panel == "top" else "x2",
        yaxis="y" if panel == "top" else "y2",
        showlegend=(panel == "top"), legend=lg, legendrank=rank,
        connectgaps=False, hoverinfo="skip"))

top_start = pd.Timestamp(TOP_START)
bot_start = pd.Timestamp(BOT_START)
fmt = "%Y-%m-%d %H:%M"

xcommon = dict(type="date", showgrid=False, zeroline=False, showline=True, linecolor=FRAME,
               linewidth=1.5, mirror=True, ticks="inside", ticklen=6, tickcolor=FRAME, tickwidth=1,
               tickfont=TICK_FONT, ticklabelstandoff=6)
ycommon = dict(range=Y_RANGE, tickvals=Y_TICKS, showgrid=False,
               zeroline=False, showline=True, linecolor=FRAME, linewidth=1.5,
               mirror=False, ticks="", tickfont=TICK_FONT, ticklabelstandoff=12)

fig.update_layout(
    width=W, height=H, margin=dict(l=ML, r=MR, t=MT, b=MB),
    paper_bgcolor="white", plot_bgcolor="white",
    xaxis=dict(xcommon, domain=[0, 1], anchor="y",
               range=[top_start.strftime(fmt), (top_start + pd.Timedelta(minutes=round(X_SPAN_DAYS_TOP * 1440))).strftime(fmt)],
               tickvals=TOP_TICK_DATES, ticktext=TOP_TICK_TEXT),
    yaxis=dict(ycommon, domain=[py(TOP_Y0), py(TOP_Y1)], anchor="x"),
    xaxis2=dict(xcommon, domain=[0, 1], anchor="y2",
                range=[bot_start.strftime(fmt), (bot_start + pd.Timedelta(minutes=round(X_SPAN_DAYS_BOT * 1440))).strftime(fmt)],
                tickvals=BOT_TICK_DATES, ticktext=BOT_TICK_TEXT),
    yaxis2=dict(ycommon, domain=[py(BOT_Y0), py(BOT_Y1)], anchor="x2"),
    legend=dict(x=px(436), y=py(21), xanchor="left", yanchor="top", bgcolor="white",
                font=dict(family=SANS, size=14.5, color="#222"),
                tracegroupgap=0, itemwidth=30),
    legend2=dict(x=px(560), y=py(21), xanchor="left", yanchor="top", bgcolor="white",
                 font=dict(family=SANS, size=14.5, color="#222"),
                 tracegroupgap=0, itemwidth=30),
    showlegend=True,
)

# dotted horizontal grid lines and dashed zero line (drawn beneath the data)
for yref, xref in (("y", "x"), ("y2", "x2")):
    for gv in GRID_VALUES:
        fig.add_shape(type="line", xref=f"{xref} domain", x0=0, x1=1, yref=yref, y0=gv, y1=gv,
                      line=dict(color="#a8a8a8", width=1, dash="dot"), layer="below")
    fig.add_shape(type="line", xref=f"{xref} domain", x0=0, x1=1, yref=yref, y0=0, y1=0,
                  line=dict(color="#1a1a1a", width=1.6, dash="dash"), layer="below")

fig.add_annotation(text="2010-2011", xref="paper", yref="paper", x=px(1055), y=py(196),
                   xanchor="center", yanchor="middle", showarrow=False,
                   font=dict(family=SANS, size=23, color="#222"))
fig.add_annotation(text="2011-2012", xref="paper", yref="paper", x=px(1055), y=py(497),
                   xanchor="center", yanchor="middle", showarrow=False,
                   font=dict(family=SANS, size=23, color="#222"))
fig.add_annotation(text="Temperature [°C]", xref="paper", yref="paper", x=px(20), y=py(290),
                   xanchor="center", yanchor="middle", textangle=-90, showarrow=False,
                   font=dict(family=NARROW, size=20, color="#111", weight="bold"))
fig.add_annotation(text="Time [mm.yy]", xref="paper", yref="paper", x=px(643), y=py(621),
                   xanchor="center", yanchor="middle", showarrow=False,
                   font=dict(family=NARROW, size=21, color="#111", weight="bold"))

fig.write_html("out.html")
